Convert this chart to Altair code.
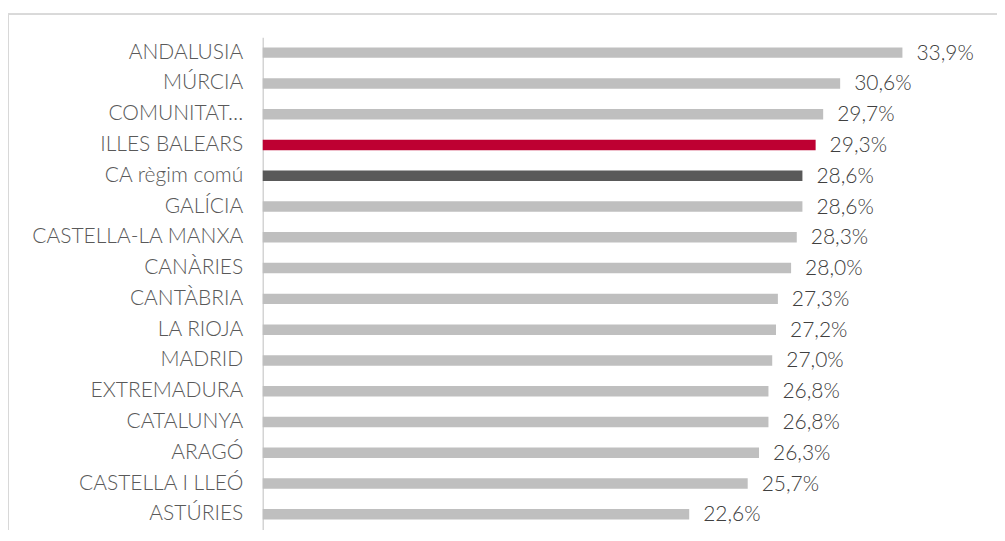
import altair as alt
import pandas as pd

regions = ["ANDALUSIA", "MÚRCIA", "COMUNITAT…", "ILLES BALEARS", "CA règim comú",
           "GALÍCIA", "CASTELLA-LA MANXA", "CANÀRIES", "CANTÀBRIA", "LA RIOJA",
           "MADRID", "EXTREMADURA", "CATALUNYA", "ARAGÓ", "CASTELLA I LLEÓ", "ASTÚRIES"]
values = [33.9, 30.6, 29.7, 29.3, 28.6, 28.6, 28.3, 28.0, 27.3, 27.2,
          27.0, 26.8, 26.8, 26.3, 25.7, 22.6]
groups = ["other", "other", "other", "balears", "comu", "other", "other", "other",
          "other", "other", "other", "other", "other", "other", "other", "other"]

df = pd.DataFrame({"region": regions, "value": values, "group": groups})
df["label"] = [f"{v:.1f}".replace(".", ",") + "%" for v in values]

FONT = "Lato"
FS = 21

y_enc = alt.Y("region:N", sort=regions, title=None,
              scale=alt.Scale(paddingInner=0.66, paddingOuter=0.33),
              axis=alt.Axis(ticks=False, labelPadding=20, labelFontSize=FS,
                            labelFont=FONT, labelFontWeight=300, labelColor="#595959",
                            domainColor="#d4d4d4", domainWidth=1.5, labelLimit=300))
x_enc = alt.X("value:Q", title=None, scale=alt.Scale(domain=[0, 36], nice=False),
              axis=None)

bars = alt.Chart(df).mark_bar().encode(
    y=y_enc, x=x_enc,
    color=alt.Color("group:N", legend=None,
                    scale=alt.Scale(domain=["other", "balears", "comu"],
                                    range=["#bfbfbf", "#be0032", "#595959"])),
)

text = alt.Chart(df).mark_text(align="left", baseline="middle", dx=14, dy=1, fontSize=FS,
                               font=FONT, fontWeight=300, color="#404040").encode(
    y=alt.Y("region:N", sort=regions), x="value:Q", text="label:N")

frame_top = alt.Chart(df).mark_rule(color="#d9d9d9", strokeWidth=1.5).encode(
    x=alt.value(-255), x2=alt.value(735), y=alt.value(-23))
frame_left = alt.Chart(df).mark_rule(color="#d9d9d9", strokeWidth=1.5).encode(
    x=alt.value(-255), y=alt.value(-23), y2=alt.value(500))

chart = alt.layer(frame_top, frame_left, bars, text).properties(
    width=680, height=493,
    background="white",
    autosize=alt.AutoSizeParams(type="none"),
    padding={"left": 255, "top": 29, "right": 55, "bottom": 0},
).configure_view(stroke=None)

chart.save("out.html", embed_options={"renderer": "svg", "actions": False})
